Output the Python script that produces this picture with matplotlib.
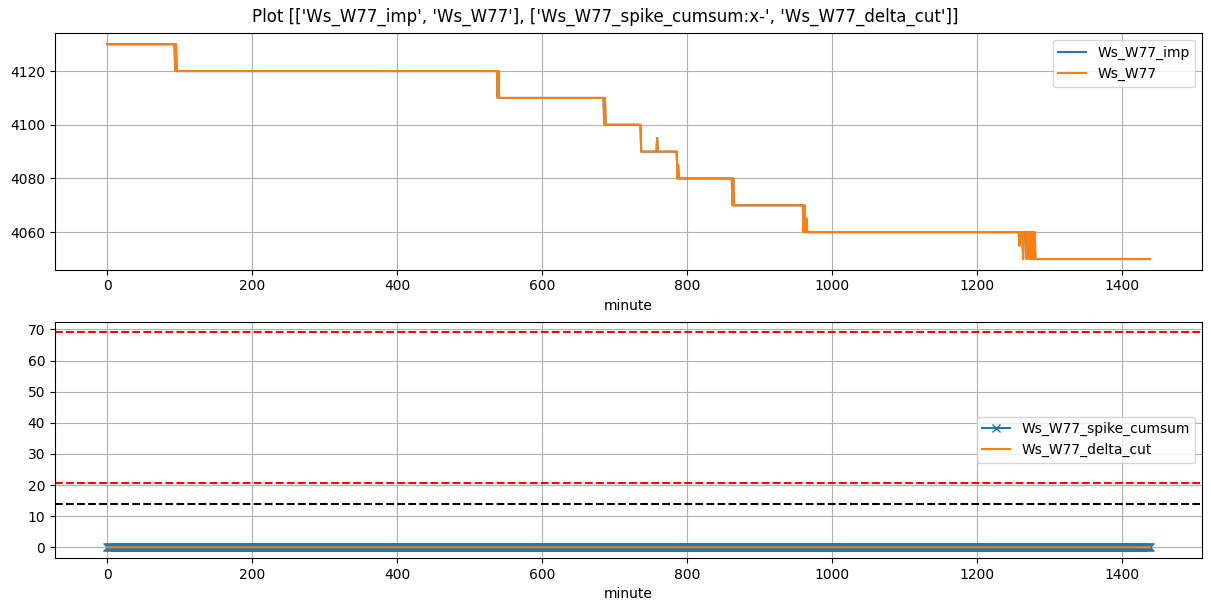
import numpy as np
import pandas as pd
import matplotlib
matplotlib.use("Agg")
from matplotlib import pyplot as plt

# minute where the value changes, and the new value
change_minute = [0, 94, 95, 96, 539, 540, 541, 686, 687, 688, 737, 759, 760,
                 787, 788, 789, 863, 864, 865, 961, 962, 963, 965, 966,
                 1259, 1260, 1264, 1265, 1269, 1270, 1273, 1274, 1276, 1277,
                 1279, 1280, 1281]
change_value = [4130, 4120, 4130, 4120, 4110, 4120, 4110, 4100, 4110, 4100, 4090, 4095, 4090,
                4080, 4085, 4080, 4070, 4080, 4070, 4060, 4070, 4060, 4065, 4060,
                4055, 4060, 4050, 4060, 4050, 4060, 4050, 4060, 4050, 4060,
                4050, 4060, 4050]
n_minutes = 1440

spike_cumsum_value = 0
delta_cut_value = 0
thresholds_red = [69.0, 20.6]
threshold_black = 14.0

minute = np.arange(n_minutes)
s = pd.Series(np.nan, index=minute)
s.loc[change_minute] = change_value
Ws_W77 = s.ffill()
Ws_W77_imp = Ws_W77.copy()

spike_cumsum = pd.Series(spike_cumsum_value, index=minute)
delta_cut = pd.Series(delta_cut_value, index=minute)

fig, axs = plt.subplots(2, 1, figsize=(12.11, 6.11), dpi=100)
fig.subplots_adjust(left=0.0454, right=0.9926, top=0.9452, bottom=0.0867, hspace=0.22)
fig.suptitle("Plot [['Ws_W77_imp', 'Ws_W77'], ['Ws_W77_spike_cumsum:x-', 'Ws_W77_delta_cut']]",
             y=0.987, va="top")

ax = axs[0]
ax.plot(minute, Ws_W77_imp, label="Ws_W77_imp")
ax.plot(minute, Ws_W77, label="Ws_W77")
ax.set_xlabel("minute")
ax.grid(True)
ax.legend(loc="upper right")

ax = axs[1]
ax.plot(minute, spike_cumsum, "x-", label="Ws_W77_spike_cumsum")
ax.plot(minute, delta_cut, label="Ws_W77_delta_cut")
for t in thresholds_red:
    ax.axhline(t, color="red", linestyle="--")
ax.axhline(threshold_black, color="black", linestyle="--")
ax.set_xlabel("minute")
ax.grid(True)
ax.legend(loc="center right")

plt.savefig("out.png")
